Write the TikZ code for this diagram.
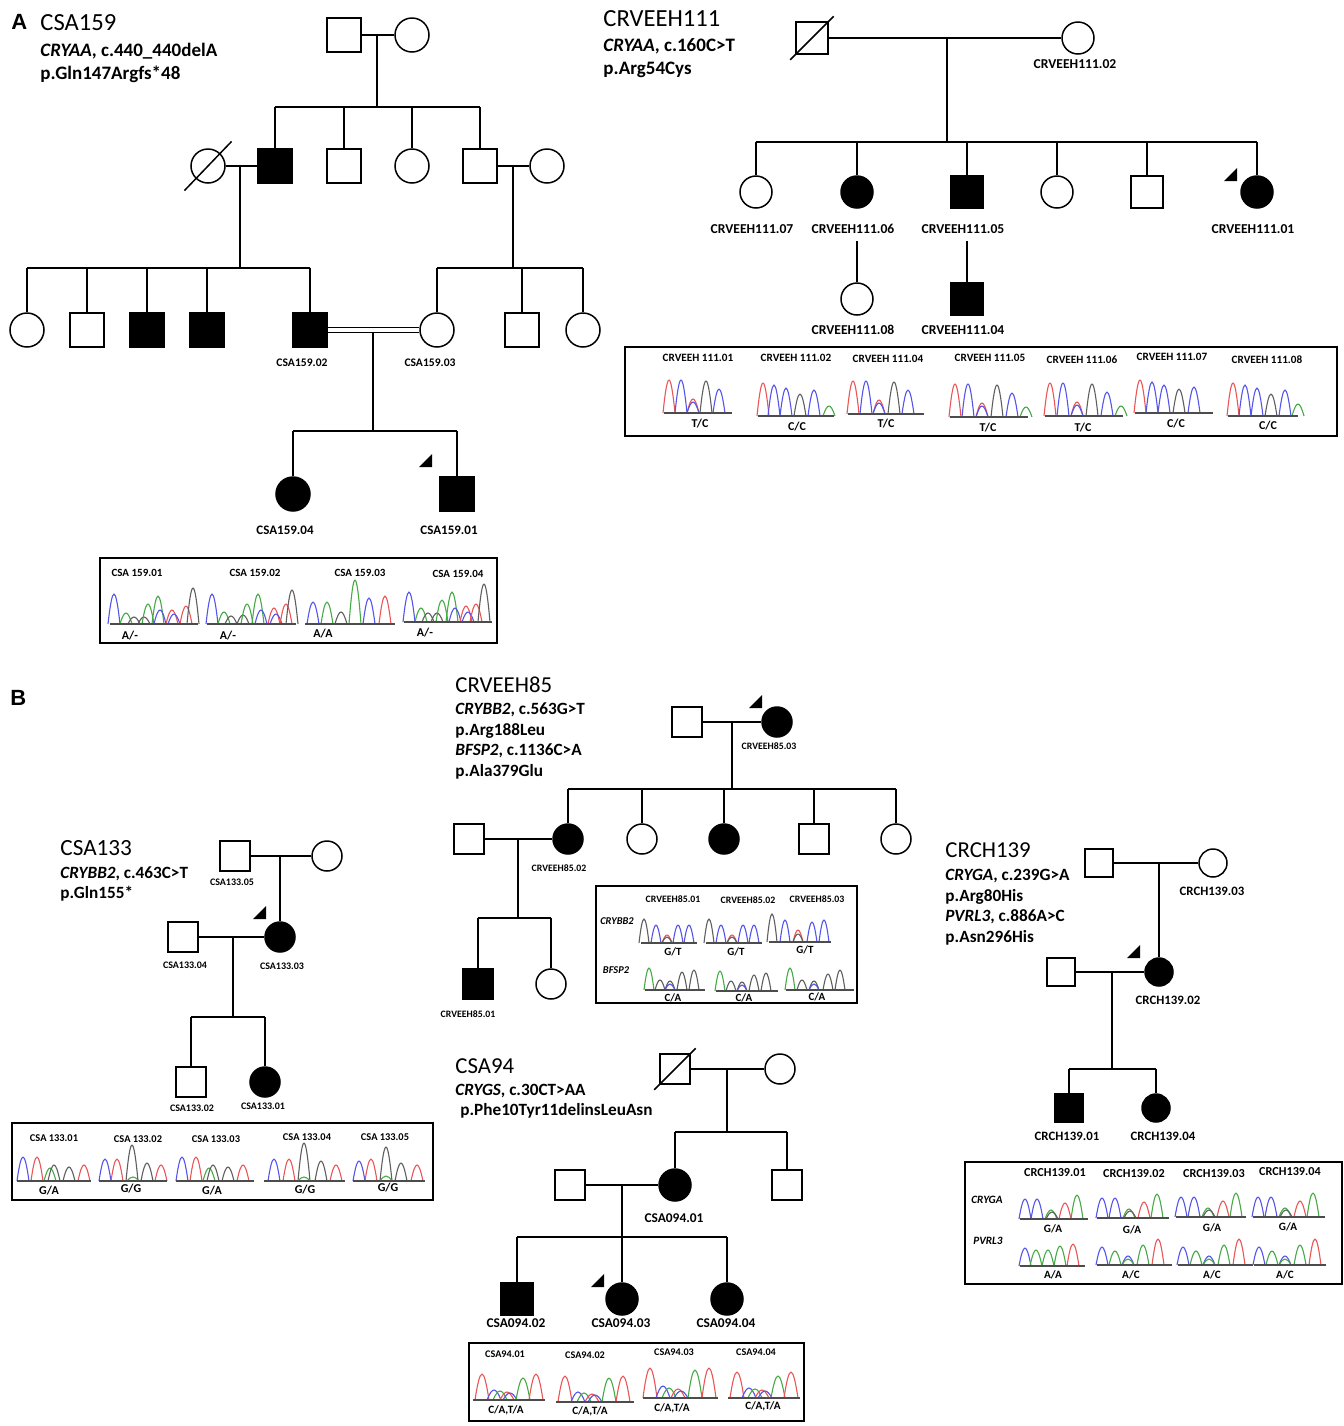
\documentclass[tikz,border=0pt]{standalone}
\usepackage{fontspec}
\setmainfont{Carlito}
\newfontfamily\arialf{Liberation Sans}
\usetikzlibrary{calc}
\definecolor{cb}{RGB}{85,85,235}
\definecolor{cg}{RGB}{70,170,70}
\definecolor{cr}{RGB}{235,85,85}
\definecolor{ck}{RGB}{95,95,95}
\newcommand{\chpeak}[5]{\draw[color=#5,line width=0.55pt] (#1-#3,#2) .. controls (#1-0.25*#3,#2-1.33*#4) and (#1+0.25*#3,#2-1.33*#4) .. (#1+#3,#2);}
\newcommand{\chrom}[5]{\foreach \px/\ph/\pc in {#5}{\chpeak{#1+\px}{#2}{#4}{\ph}{\pc}}\draw[ck!80!black,line width=0.9pt] (#1,#2) -- ++(#3,0);}
\newcommand{\prob}[2]{\fill (#1,#2) -- ++(-13,0) -- ++(13,-13) -- cycle;}
\begin{document}
\begin{tikzpicture}[x=0.5pt,y=-0.5pt,
  lw/.style={line width=0.75pt},
  msq/.style={draw,rectangle,line width=0.75pt,inner sep=0pt,minimum size=#1},
  msq/.default=15pt,
  fci/.style={draw,circle,line width=0.75pt,inner sep=0pt,minimum size=#1},
  fci/.default=15pt,
  aff/.style={fill=black},
  ttl/.style={anchor=base west,inner sep=0pt,font=\fontsize{#1}{#1}\selectfont},
  gn/.style={anchor=base west,inner sep=0pt,font=\bfseries\fontsize{#1}{#1}\selectfont},
  lb/.style={inner sep=0pt,font=\bfseries\fontsize{#1}{#1}\selectfont},
  bx/.style={draw,line width=0.8pt}]
\fill[white] (0,0) rectangle (1344,1426);
\useasboundingbox (0,0) rectangle (1344,1426);

% panel letters
\node[anchor=base west,inner sep=0pt,font=\arialf\bfseries\fontsize{11}{11}\selectfont] (pA) at (11,29) {A};
\node[anchor=base west,inner sep=0pt,font=\arialf\bfseries\fontsize{11}{11}\selectfont] (pB) at (10,705) {B};

%================ CSA159 =================
\node[ttl=12.3] (t159) at (40,30) {CSA159};
\node[gn=9.5] (g159a) at (40,56) {\textit{CRYAA}, c.440\_440delA};
\node[gn=9.5] (g159b) at (40,79) {p.Gln147Argfs*48};

\node[msq=17pt] (a1) at (344,35) {};
\node[fci=17pt] (a2) at (412,35) {};
\draw[lw] (a1) -- (a2);
\coordinate (a12) at (377,35);
\coordinate (as1) at (377,107);
\draw[lw] (a12) -- (as1);

\node[fci=17pt] (b1) at (208,166) {};
\node[msq=17pt,aff] (b2) at (275,166) {};
\node[msq=17pt] (b3) at (344,166) {};
\node[fci=17pt] (b4) at (412,166) {};
\node[msq=17pt] (b5) at (480,166) {};
\node[fci=17pt] (b6) at (547,166) {};
\draw[lw] (b2 |- as1) -- (b5 |- as1);
\foreach \n in {b2,b3,b4,b5} \draw[lw] (\n) -- (\n |- as1);
\draw[lw] (b1) -- (b2);
\draw[lw] (b5) -- (b6);
\draw[lw] ([shift={(-11,12)}]b1.south west) -- ([shift={(11,-12)}]b1.north east);
\coordinate (b12) at (240,166);
\coordinate (bs1) at (240,268);
\draw[lw] (b12) -- (bs1);
\coordinate (b56) at (513,166);
\coordinate (bs2) at (513,268);
\draw[lw] (b56) -- (bs2);

\node[fci=17pt] (c1) at (27,330) {};
\node[msq=17pt] (c2) at (87,330) {};
\node[msq=17pt,aff] (c3) at (147,330) {};
\node[msq=17pt,aff] (c4) at (207,330) {};
\node[msq=17pt,aff] (c5) at (310,330) {};
\node[fci=17pt] (c6) at (437,330) {};
\node[msq=17pt] (c7) at (522,330) {};
\node[fci=17pt] (c8) at (583,330) {};
\draw[lw] (c1 |- bs1) -- (c5 |- bs1);
\foreach \n in {c1,c2,c3,c4,c5} \draw[lw] (\n) -- (\n |- bs1);
\draw[lw] (c6 |- bs2) -- (c8 |- bs2);
\foreach \n in {c6,c7,c8} \draw[lw] (\n) -- (\n |- bs2);
\draw[lw] ($(c5.east)+(0,-2.6)$) -- ($(c6.west)+(0,-2.6)$);
\draw[lw] ($(c5.east)+(0,2.6)$) -- ($(c6.west)+(0,2.6)$);
\coordinate (c56) at (373,332);
\coordinate (cs1) at (373,431);
\draw[lw] (c56) -- (cs1);
\node[lb=5.8] (l1592) at (302,363) {CSA159.02};
\node[lb=5.8] (l1593) at (430,363) {CSA159.03};

\node[fci=17pt,aff] (d1) at (293,494) {};
\node[msq=17pt,aff] (d2) at (457,494) {};
\draw[lw] (d1 |- cs1) -- (d2 |- cs1);
\foreach \n in {d1,d2} \draw[lw] (\n) -- (\n |- cs1);
\prob{432}{467}
\node[lb=6.5] (l1594) at (285,530) {CSA159.04};
\node[lb=6.5] (l1591) at (449,530) {CSA159.01};

\draw[bx] (100,558) rectangle (497,643);
\node[lb=5.5] (h1) at (137,573) {CSA 159.01};
\node[lb=5.5] (h2) at (255,573) {CSA 159.02};
\node[lb=5.5] (h3) at (360,573) {CSA 159.03};
\node[lb=5.5] (h4) at (458,574) {CSA 159.04};
\chrom{110}{624}{88}{6}{4/30/cb, 16/11/cg, 24/7/ck, 34/7/ck, 38/20/cg, 48/28/cg, 50/14/cb, 62/14/cr, 64/10/cb, 76/18/cr, 83/36/ck}
\chrom{207}{624}{89}{6}{5/30/cb, 17/12/cg, 24/8/ck, 36/9/ck, 40/20/cg, 51/30/cg, 54/14/cb, 67/16/cr, 69/10/cb, 79/20/cr, 85/34/ck}
\chrom{305}{624}{90}{6}{8/22/cb, 22/22/cg, 36/12/ck, 50/44/cg, 64/26/cb, 80/28/cr}
\chrom{404}{622}{88}{6}{5/30/cb, 17/14/cg, 24/9/ck, 33/9/ck, 38/22/cg, 48/30/cg, 51/14/cb, 62/16/cr, 64/10/cb, 72/18/cr, 80/38/ck}
\node[lb=6] (gt1) at (130,636) {A/-};
\node[lb=6] (gt2) at (228,636) {A/-};
\node[lb=6] (gt3) at (323,634) {A/A};
\node[lb=6] (gt4) at (425,633) {A/-};

%================ CRVEEH111 =================
\node[ttl=12.3] (t111) at (603,26) {CRVEEH111};
\node[gn=9.5] (g111a) at (603,51) {\textit{CRYAA}, c.160C>T};
\node[gn=9.5] (g111b) at (603,74) {p.Arg54Cys};

\node[msq=16pt] (r1) at (812,38) {};
\node[fci=16pt] (r2) at (1078,38) {};
\draw[lw] (r1) -- (r2);
\draw[lw] ([shift={(-5,5)}]r1.south west) -- ([shift={(5,-5)}]r1.north east);
\node[lb=6.8] (l1112) at (1075,64) {CRVEEH111.02};
\coordinate (r12) at (947,38);
\coordinate (rs) at (947,142);
\draw[lw] (r12) -- (rs);
\node[fci=16pt] (r7) at (756,192) {};
\node[fci=16pt,aff] (r6) at (857,192) {};
\node[msq=16pt,aff] (r5) at (967,192) {};
\node[fci=16pt] (rx1) at (1057,192) {};
\node[msq=16pt] (rx2) at (1147,192) {};
\node[fci=16pt,aff] (r01) at (1257,192) {};
\draw[lw] (r7 |- rs) -- (r01 |- rs);
\foreach \n in {r7,r6,r5,rx1,rx2,r01} \draw[lw] (\n) -- (\n |- rs);
\prob{1237}{181}
\node[lb=6.8] (l1117) at (752,229) {CRVEEH111.07};
\node[lb=6.8] (l1116) at (853,229) {CRVEEH111.06};
\node[lb=6.8] (l1115) at (963,229) {CRVEEH111.05};
\node[lb=6.8] (l1111) at (1253,229) {CRVEEH111.01};
\coordinate (r6d) at (857,241);
\coordinate (r5d) at (967,241);
\node[fci=16pt] (r8) at (857,299) {};
\node[msq=16pt,aff] (r4) at (967,299) {};
\draw[lw] (r6d) -- (r8);
\draw[lw] (r5d) -- (r4);
\node[lb=6.8] (l1118) at (853,330) {CRVEEH111.08};
\node[lb=6.8] (l1114) at (963,330) {CRVEEH111.04};

\draw[bx] (625,347) rectangle (1337,436);
\node[lb=5.6] (k1) at (698,358) {CRVEEH 111.01};
\node[lb=5.6] (k2) at (796,358) {CRVEEH 111.02};
\node[lb=5.6] (k3) at (888,359) {CRVEEH 111.04};
\node[lb=5.6] (k4) at (990,358) {CRVEEH 111.05};
\node[lb=5.6] (k5) at (1082,360) {CRVEEH 111.06};
\node[lb=5.6] (k6) at (1172,357) {CRVEEH 111.07};
\node[lb=5.6] (k7) at (1267,360) {CRVEEH 111.08};
\chrom{664}{413}{68}{6}{5/33/cr, 17/33/cb, 29/14/cr, 29/11/cb, 42/32/ck, 55/24/cb}
\chrom{758}{416}{76}{6}{5/33/cr, 16/31/cb, 28/28/cb, 42/22/ck, 56/26/cb, 71/10/cg}
\chrom{848}{414}{76}{6}{5/33/cr, 18/33/cb, 31/14/cr, 31/11/cb, 46/32/ck, 60/24/cb}
\chrom{950}{417}{78}{6}{5/33/cr, 18/33/cb, 32/14/cr, 32/11/cb, 47/32/ck, 62/24/cb, 76/10/cg}
\chrom{1045}{416}{78}{6}{5/33/cr, 18/33/cb, 32/14/cr, 32/11/cb, 47/32/ck, 62/24/cb, 76/10/cg}
\chrom{1135}{413}{78}{6}{5/33/cr, 17/31/cb, 29/28/cb, 44/24/ck, 59/26/cb}
\chrom{1228}{416}{70}{6}{5/33/cr, 17/31/cb, 29/28/cb, 43/22/ck, 57/26/cb, 70/12/cg}
\node[lb=6] (q1) at (700,424) {T/C};
\node[lb=6] (q2) at (797,427) {C/C};
\node[lb=6] (q3) at (886,424) {T/C};
\node[lb=6] (q4) at (988,428) {T/C};
\node[lb=6] (q5) at (1083,428) {T/C};
\node[lb=6] (q6) at (1176,424) {C/C};
\node[lb=6] (q7) at (1268,426) {C/C};

%================ CSA133 =================
\node[ttl=11.6] (t133) at (60,855) {CSA133};
\node[gn=8.6] (g133a) at (60,878) {\textit{CRYBB2}, c.463C>T};
\node[gn=8.6] (g133b) at (60,898) {p.Gln155*};
\node[msq] (s5) at (235,856) {};
\node[fci] (sf) at (327,856) {};
\draw[lw] (s5) -- (sf);
\coordinate (s56) at (280,856);
\node[fci,aff] (s3) at (280,937) {};
\draw[lw] (s56) -- (s3);
\node[msq] (s4) at (183,937) {};
\draw[lw] (s4) -- (s3);
\prob{266}{919}
\node[lb=5] (l1335) at (232,882) {CSA133.05};
\node[lb=5] (l1334) at (185,965) {CSA133.04};
\node[lb=5] (l1333) at (282,966) {CSA133.03};
\coordinate (s34) at (233,937);
\coordinate (ss) at (233,1017);
\draw[lw] (s34) -- (ss);
\node[msq] (s2) at (191,1082) {};
\node[fci,aff] (s1) at (265,1082) {};
\draw[lw] (s2 |- ss) -- (s1 |- ss);
\foreach \n in {s1,s2} \draw[lw] (\n) -- (\n |- ss);
\node[lb=5] (l1332) at (192,1108) {CSA133.02};
\node[lb=5] (l1331) at (263,1106) {CSA133.01};

\draw[bx] (12,1123) rectangle (433,1200);
\node[lb=5.2] (m1) at (54,1138) {CSA 133.01};
\node[lb=5.2] (m2) at (138,1139) {CSA 133.02};
\node[lb=5.2] (m3) at (216,1139) {CSA 133.03};
\node[lb=5.2] (m4) at (307,1137) {CSA 133.04};
\node[lb=5.2] (m5) at (385,1137) {CSA 133.05};
\chrom{17}{1181}{74}{6}{6/24/cb, 20/24/cr, 33/13/cg, 37/16/ck, 52/14/ck, 67/16/cr}
\chrom{99}{1181}{68}{6}{6/22/cb, 18/22/cr, 33/36/ck, 34/4/cg, 48/18/ck, 62/16/cr}
\chrom{176}{1181}{78}{6}{6/24/cb, 20/24/cr, 33/13/cg, 37/16/ck, 52/14/ck, 67/16/cr}
\chrom{264}{1181}{81}{6}{10/22/cb, 25/22/cr, 40/38/ck, 40/4/cg, 57/20/ck, 72/16/cr}
\chrom{353}{1181}{72}{6}{6/20/cb, 18/22/cr, 33/34/ck, 33/5/cg, 48/18/ck, 64/16/cr}
\node[lb=6] (n1) at (49,1191) {G/A};
\node[lb=6] (n2) at (131,1189) {G/G};
\node[lb=6] (n3) at (212,1191) {G/A};
\node[lb=6] (n4) at (305,1190) {G/G};
\node[lb=6] (n5) at (388,1188) {G/G};

%================ CRVEEH85 =================
\node[ttl=11.4] (t85) at (455,692) {CRVEEH85};
\node[gn=8.6] (g85a) at (455,714) {\textit{CRYBB2}, c.563G>T};
\node[gn=8.6] (g85b) at (455,735) {p.Arg188Leu};
\node[gn=8.6] (g85c) at (455,755) {\textit{BFSP2}, c.1136C>A};
\node[gn=8.6] (g85d) at (455,776) {p.Ala379Glu};
\node[msq] (v0) at (687,722) {};
\node[fci,aff] (v3) at (777,722) {};
\draw[lw] (v0) -- (v3);
\prob{762}{708}
\node[lb=4.9] (l853) at (769,746) {CRVEEH85.03};
\coordinate (v03) at (732,722);
\coordinate (vs1) at (732,789);
\draw[lw] (v03) -- (vs1);
\node[fci,aff] (v2) at (568,839) {};
\node[fci] (vk2) at (642,839) {};
\node[fci,aff] (vk3) at (724,839) {};
\node[msq] (vk4) at (814,839) {};
\node[fci] (vk5) at (896,839) {};
\draw[lw] (v2 |- vs1) -- (vk5 |- vs1);
\foreach \n in {v2,vk2,vk3,vk4,vk5} \draw[lw] (\n) -- (\n |- vs1);
\node[msq] (vsp) at (469,839) {};
\draw[lw] (vsp) -- (v2);
\node[lb=4.9] (l852) at (559,868) {CRVEEH85.02};
\coordinate (v2p) at (518,839);
\coordinate (vs2) at (518,918);
\draw[lw] (v2p) -- (vs2);
\node[msq,aff] (v1) at (478,984) {};
\node[fci] (vk6) at (551,984) {};
\draw[lw] (v1 |- vs2) -- (vk6 |- vs2);
\foreach \n in {v1,vk6} \draw[lw] (\n) -- (\n |- vs2);
\node[lb=4.9] (l851) at (468,1014) {CRVEEH85.01};

\draw[bx] (596,886) rectangle (857,1003);
\node[lb=4.9] (o1) at (673,899) {CRVEEH85.01};
\node[lb=4.9] (o2) at (748,900) {CRVEEH85.02};
\node[lb=4.9] (o3) at (817,899) {CRVEEH85.03};
\node[lb=5.2,font=\bfseries\itshape\fontsize{5.2}{5.2}\selectfont] (o4) at (617,921) {CRYBB2};
\node[lb=5.2,font=\bfseries\itshape\fontsize{5.2}{5.2}\selectfont] (o5) at (616,970) {BFSP2};
\chrom{641}{943}{56}{5}{3/24/ck, 15/18/cb, 26/8/cr, 26/6/ck, 37/18/cb, 48/18/cb}
\chrom{706}{943}{56}{5}{3/24/ck, 15/18/cb, 26/8/cr, 26/6/ck, 37/18/cb, 48/18/cb}
\chrom{769}{942}{62}{5}{3/28/ck, 16/22/cb, 29/12/cr, 29/8/ck, 43/20/cb, 55/22/cb}
\chrom{645}{990}{60}{5}{4/22/cg, 15/10/ck, 25/9/ck, 25/6/cb, 37/18/ck, 49/20/ck}
\chrom{716}{991}{62}{5}{4/20/cg, 15/10/ck, 26/9/ck, 26/6/cb, 38/16/ck, 50/18/ck}
\chrom{786}{990}{68}{5}{4/22/cg, 16/10/ck, 28/9/ck, 28/6/cb, 42/16/ck, 54/20/ck}
\node[lb=5.5] (u1) at (673,952) {G/T};
\node[lb=5.5] (u2) at (736,952) {G/T};
\node[lb=5.5] (u3) at (805,950) {G/T};
\node[lb=5.5] (u4) at (673,998) {C/A};
\node[lb=5.5] (u5) at (744,998) {C/A};
\node[lb=5.5] (u6) at (817,997) {C/A};

%================ CSA94 =================
\node[ttl=11.4] (t94) at (455,1073) {CSA94};
\node[gn=8.6] (g94a) at (455,1095) {\textit{CRYGS}, c.30CT>AA};
\node[gn=8.6] (g94b) at (460,1115) {p.Phe10Tyr11delinsLeuAsn};
\node[msq] (w0) at (675,1069) {};
\node[fci] (wf) at (780,1069) {};
\draw[lw] (w0) -- (wf);
\draw[lw] ([shift={(-5,5)}]w0.south west) -- ([shift={(5,-5)}]w0.north east);
\coordinate (w0f) at (727,1069);
\coordinate (ws1) at (727,1132);
\draw[lw] (w0f) -- (ws1);
\node[fci=16pt,aff] (w1) at (675,1185) {};
\node[msq] (wk) at (787,1185) {};
\draw[lw] (w1 |- ws1) -- (wk |- ws1);
\foreach \n in {w1,wk} \draw[lw] (\n) -- (\n |- ws1);
\node[msq] (wsp) at (570,1185) {};
\draw[lw] (wsp) -- (w1);
\node[lb=6.7] (l941) at (674,1218) {CSA094.01};
\coordinate (w1p) at (622,1185);
\coordinate (ws2) at (622,1237);
\draw[lw] (w1p) -- (ws2);
\node[msq=16pt,aff] (w2) at (517,1299) {};
\node[fci=16pt,aff] (w3) at (622,1299) {};
\node[fci=16pt,aff] (w4) at (727,1299) {};
\draw[lw] (w2 |- ws2) -- (w4 |- ws2);
\foreach \n in {w2,w3,w4} \draw[lw] (\n) -- (\n |- ws2);
\prob{604}{1287}
\node[lb=6.7] (l942) at (516,1323) {CSA094.02};
\node[lb=6.7] (l943) at (621,1323) {CSA094.03};
\node[lb=6.7] (l944) at (726,1323) {CSA094.04};

\draw[bx] (469,1343) rectangle (804,1421);
\node[lb=5.1] (p1) at (505,1354) {CSA94.01};
\node[lb=5.1] (p2) at (585,1355) {CSA94.02};
\node[lb=5.1] (p3) at (674,1352) {CSA94.03};
\node[lb=5.1] (p4) at (756,1352) {CSA94.04};
\chrom{473}{1400}{72}{7}{9/26/cr, 21/10/cb, 27/9/cg, 34/8/cr, 37/7/cb, 50/22/cg, 63/26/cr}
\chrom{556}{1402}{78}{7}{9/26/cr, 22/10/cb, 28/9/cg, 36/8/cr, 39/7/cb, 53/24/cg, 67/26/cr}
\chrom{643}{1398}{75}{7}{7/30/cr, 20/12/cb, 26/10/cg, 35/9/cr, 38/7/cb, 52/28/cg, 66/30/cr}
\chrom{728}{1398}{72}{7}{9/26/cr, 21/10/cb, 27/9/cg, 34/8/cr, 37/7/cb, 50/22/cg, 63/26/cr}
\node[lb=5.6] (y1) at (506,1410) {C/A,T/A};
\node[lb=5.6] (y2) at (590,1411) {C/A,T/A};
\node[lb=5.6] (y3) at (672,1408) {C/A,T/A};
\node[lb=5.6] (y4) at (763,1406) {C/A,T/A};

%================ CRCH139 =================
\node[ttl=11.4] (t139) at (945,857) {CRCH139};
\node[gn=8.6] (g139a) at (945,880) {\textit{CRYGA}, c.239G>A};
\node[gn=8.6] (g139b) at (945,901) {p.Arg80His};
\node[gn=8.6] (g139c) at (945,921) {\textit{PVRL3}, c.886A>C};
\node[gn=8.6] (g139d) at (945,942) {p.Asn296His};
\node[msq=14pt] (h0) at (1099,863) {};
\node[fci=14pt] (h3) at (1213,863) {};
\draw[lw] (h0) -- (h3);
\node[lb=6.4] (l1393) at (1212,891) {CRCH139.03};
\coordinate (h03) at (1159,863);
\node[fci=14pt,aff] (h2) at (1159,972) {};
\draw[lw] (h03) -- (h2);
\node[msq=14pt] (hsp) at (1061,972) {};
\draw[lw] (hsp) -- (h2);
\prob{1140}{958}
\node[lb=6.4] (l1392) at (1168,1000) {CRCH139.02};
\coordinate (h2p) at (1112,972);
\coordinate (hs) at (1112,1069);
\draw[lw] (h2p) -- (hs);
\node[msq=14pt,aff] (h1) at (1069,1108) {};
\node[fci=14pt,aff] (h4) at (1156,1108) {};
\draw[lw] (h1 |- hs) -- (h4 |- hs);
\foreach \n in {h1,h4} \draw[lw] (\n) -- (\n |- hs);
\node[lb=6.4] (l1391) at (1067,1136) {CRCH139.01};
\node[lb=6.4] (l1394) at (1163,1136) {CRCH139.04};

\draw[bx] (965,1162) rectangle (1342,1284);
\node[lb=6.1] (z1) at (1055,1173) {CRCH139.01};
\node[lb=6.1] (z2) at (1134,1174) {CRCH139.02};
\node[lb=6.1] (z3) at (1214,1174) {CRCH139.03};
\node[lb=6.1] (z4) at (1290,1172) {CRCH139.04};
\node[lb=5.6,font=\bfseries\itshape\fontsize{5.6}{5.6}\selectfont] (z5) at (987,1200) {CRYGA};
\node[lb=5.6,font=\bfseries\itshape\fontsize{5.6}{5.6}\selectfont] (z6) at (988,1241) {PVRL3};
\chrom{1020}{1219}{68}{6}{5/20/cb, 17/20/cb, 31/9/cg, 32/7/ck, 45/16/cr, 57/24/cg}
\chrom{1097}{1218}{72}{6}{5/20/cb, 18/20/cb, 32/9/cg, 33/7/ck, 47/16/cr, 60/24/cg}
\chrom{1176}{1217}{70}{6}{5/20/cb, 18/20/cb, 32/9/cg, 33/7/ck, 47/16/cr, 60/24/cg}
\chrom{1253}{1217}{72}{6}{5/20/cb, 18/20/cb, 32/9/cg, 33/7/ck, 47/16/cr, 60/24/cg}
\chrom{1020}{1266}{65}{6}{5/18/cb, 16/16/cg, 28/16/cg, 40/20/cg, 53/22/cr}
\chrom{1097}{1265}{75}{6}{5/18/cb, 18/14/cg, 31/9/cb, 31/6/cg, 46/20/cg, 61/26/cr}
\chrom{1178}{1265}{75}{6}{5/18/cb, 18/14/cg, 31/9/cb, 31/6/cg, 46/20/cg, 61/26/cr}
\chrom{1254}{1265}{72}{6}{5/18/cb, 18/14/cg, 31/9/cb, 31/6/cg, 46/20/cg, 61/26/cr}
\node[lb=5.6] (x1) at (1053,1229) {G/A};
\node[lb=5.6] (x2) at (1132,1230) {G/A};
\node[lb=5.6] (x3) at (1212,1228) {G/A};
\node[lb=5.6] (x4) at (1288,1227) {G/A};
\node[lb=5.6] (x5) at (1053,1275) {A/A};
\node[lb=5.6] (x6) at (1131,1275) {A/C};
\node[lb=5.6] (x7) at (1212,1275) {A/C};
\node[lb=5.6] (x8) at (1285,1275) {A/C};
\end{tikzpicture}
\end{document}
